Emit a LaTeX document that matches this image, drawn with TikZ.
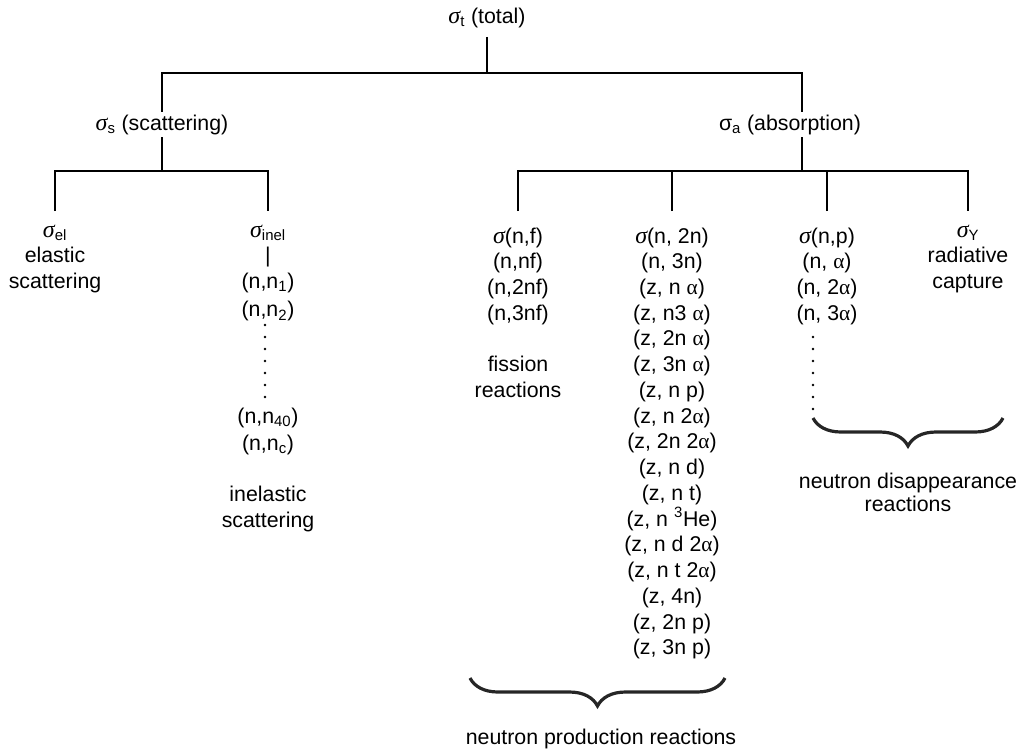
\documentclass[tikz,border=0pt]{standalone}
\usepackage{fontspec}
\setmainfont{Liberation Sans}
\newfontfamily\grk{Liberation Serif}
\usetikzlibrary{decorations.pathreplacing}
\newcommand{\sig}{{\grk\itshape\fontsize{18}{19.3}\selectfont σ}}
\newcommand{\al}{{\grk α}}
\newcommand{\lo}[1]{\textsubscript{#1}}

\begin{document}
\begin{tikzpicture}[
  x=0.75pt, y=-0.75pt,
  font=\fontsize{16}{19.3}\selectfont,
  branch/.style={line width=1.2pt},
  lbl/.style={anchor=base, inner xsep=0pt, inner ysep=2pt, outer sep=0pt},
  col/.style={align=center, anchor=north, inner xsep=0pt, inner ysep=10.5pt, outer sep=0pt},
  grp/.style={decorate, decoration={brace, mirror, amplitude=21pt}, line width=2.4pt, draw=black!85},
  grplab/.style={align=center, anchor=north, inner sep=0pt},
]
\useasboundingbox (0,0) rectangle (1021,751);
% ---------------------------------------------------------------- top levels
\node[lbl, inner ysep=7pt] (total) at (487,23) {\sig\lo{t} (total)};
\node[lbl] (scat) at (162,130) {\sig\lo{s} (scattering)};
\node[lbl] (absorb) at (790,130) {σ\lo{a} (absorption)};

\coordinate (j0) at (487,73);
\coordinate (js) at (162,171);
\coordinate (ja) at (802,171);

% ---------------------------------------------------------------- scattering
\node[col, inner ysep=6pt] (el) at (55,211) {\strut\sig\lo{el}\\elastic\\scattering};
\node[col, inner ysep=6pt] (inel) at (268,211)
  {\strut\sig\lo{inel}\\|\\(n,n\lo{1})\\[2pt](n,n\lo{2})};
\foreach \k in {0,...,6} \fill (265,325+12*\k) circle (1.1pt);
\node[col, inner ysep=0pt] (inelb) at (268,405)
  {\strut(n,n\lo{40})\\[1pt](n,n\lo{c})\\[19.3pt]inelastic\\scattering};

% ---------------------------------------------------------------- absorption
\node[col] (fis) at (518,211)
  {\strut\sig(n,f)\\(n,nf)\\(n,2nf)\\(n,3nf)\\[19.3pt]fission\\reactions};
\node[col] (prod) at (672,211)
  {\strut\sig(n, 2n)\\(n, 3n)\\(z, n \al)\\(z, n3 \al)\\(z, 2n \al)\\(z, 3n \al)\\
   (z, n p)\\(z, n 2\al)\\(z, 2n 2\al)\\(z, n d)\\(z, n t)\\(z, n \textsuperscript{3}He)\\
   (z, n d 2\al)\\(z, n t 2\al)\\(z, 4n)\\(z, 2n p)\\(z, 3n p)};
\node[col] (disap) at (827,211) {\strut\sig(n,p)\\(n, \al)\\(n, 2\al)\\(n, 3\al)};
\foreach \k in {0,...,6} \fill (813,337+12*\k) circle (1.1pt);
\node[col, inner ysep=6pt] (capt) at (968,211) {\strut\sig\lo{Y}\\radiative\\capture};

% ---------------------------------------------------------------- branches
\draw[branch] (total) -- (j0);
\draw[branch] (scat) |- (j0) -| (absorb.north -| ja);
\draw[branch] (scat) -- (js);
\draw[branch] (absorb.south -| ja) -- (ja);
\draw[branch] (el) |- (js) -| (inel);
\draw[branch] (fis) |- (ja) -| (capt);
\draw[branch] (prod) -- (prod |- ja);
\draw[branch] (disap) -- (disap |- ja);

% ---------------------------------------------------------------- groups
\coordinate (pbl) at (470,678);
\coordinate (pbr) at (725,678);
\coordinate (dbl) at (813,418);
\coordinate (dbr) at (1003,418);
\draw[grp] (pbl) -- (pbr);
\draw[grp] (dbl) -- (dbr);
\node[lbl] (prodlab) at (601,744) {neutron production reactions};
\node[grplab] (disaplab) at (908,470) {\strut neutron disappearance\\[-2pt]reactions};
\end{tikzpicture}
\end{document}
